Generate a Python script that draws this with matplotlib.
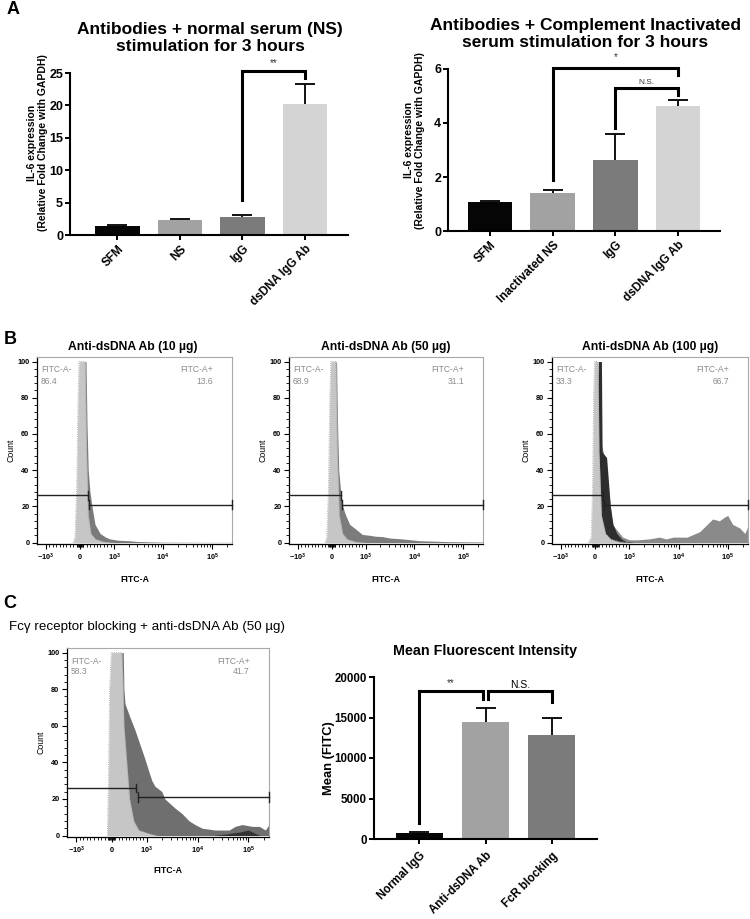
"""Recreate the IL-6 expression / anti-dsDNA binding figure (panels A-C)."""

import numpy
from matplotlib import pyplot
from matplotlib import ticker

pyplot.rcParams["font.family"] = ["Liberation Sans", "DejaVu Sans"]
pyplot.rcParams["mathtext.fontset"] = "custom"
pyplot.rcParams["mathtext.rm"] = "Liberation Sans"
pyplot.rcParams["mathtext.bf"] = "Liberation Sans:bold"

# ---- panel A, left: antibodies + normal serum
ns_groups = ["SFM", "NS", "IgG", "dsDNA IgG Ab"]
ns_mean = [1.35, 2.3, 2.72, 20.25]
ns_upper = [1.55, 2.45, 3.15, 23.3]
ns_colors = ["#050505", "#a2a2a2", "#7b7b7b", "#d4d4d4"]

# ---- panel A, right: antibodies + complement inactivated serum
ci_groups = ["SFM", "Inactivated NS", "IgG", "dsDNA IgG Ab"]
ci_mean = [1.06, 1.39, 2.63, 4.63]
ci_upper = [1.12, 1.53, 3.58, 4.87]
ci_colors = ["#050505", "#a2a2a2", "#7b7b7b", "#d4d4d4"]

# ---- panel C, right: mean fluorescent intensity
mfi_groups = ["Normal IgG", "Anti-dsDNA Ab", "FcR blocking"]
mfi_mean = [790, 14480, 12840]
mfi_upper = [910, 16130, 14900]
mfi_colors = ["#050505", "#a2a2a2", "#7b7b7b"]

# ---- flow histograms: FITC-A value vs count
b10_ctrl_x = [-200, -150, -100, -60, -30, 150, 190, 240, 320, 450, 700, 1000]
b10_ctrl_y = [0, 3, 30, 80, 100, 100, 50, 15, 5, 2, 0.5, 0]
b10_samp_x = [-150, -50, 60, 90, 175, 205, 240, 290, 350, 440, 590, 750, 880,
              1200, 2000, 3000, 5000, 10000, 30000, 100000, 256000]
b10_samp_y = [0, 15, 90, 100, 100, 65, 40, 28, 20, 10, 5, 3, 2,
              1.3, 1, 0.6, 0.4, 0.2, 0.15, 0.1, 0.1]
b10_pct = ("86.4", "13.6")
b10_gate = 235

b50_ctrl_x = [-200, -150, -100, -60, -30, 120, 160, 220, 320, 450, 700, 1000]
b50_ctrl_y = [0, 3, 30, 80, 100, 100, 50, 15, 5, 2, 0.5, 0]
b50_samp_x = [-150, -50, 60, 120, 140, 155, 175, 205, 260, 320, 410, 530, 735,
              900, 1200, 1600, 2200, 3100, 5700, 13000, 52000, 256000]
b50_samp_y = [0, 15, 90, 100, 100, 80, 60, 40, 28, 20, 15, 10, 7,
              4.5, 4, 3.5, 3.3, 2.5, 2, 1, 0.5, 0.3]
b50_pct = ("68.9", "31.1")
b50_gate = 265

b100_ctrl_x = [-200, -120, -80, -50, -20, 80, 110, 180, 300, 450, 700, 1000]
b100_ctrl_y = [0, 3, 30, 80, 100, 100, 50, 15, 5, 2, 0.5, 0]
b100_dark_x = [-100, 0, 60, 90, 180, 200, 330, 360, 440, 520, 630, 765, 910, 1200]
b100_dark_y = [0, 30, 80, 100, 100, 50, 47, 40, 20, 10, 5, 2, 0.5, 0]
b100_samp_x = [-50, 100, 300, 500, 800, 1000, 1500, 2500, 4100, 5500, 7800, 14800,
               26700, 49000, 67000, 85000, 99000, 125000, 175000, 220000, 256000]
b100_samp_y = [0, 60, 45, 10, 3, 1.5, 1.5, 2, 3, 2, 3, 3,
               6, 13, 12, 14, 15, 10, 8, 5, 9]
b100_pct = ("33.3", "66.7")
b100_gate = 235

c_ctrl_x = [-120, -90, -57, -10, 290, 320, 350, 430, 510, 630, 770, 1150, 1600]
c_ctrl_y = [0, 30, 80, 100, 100, 85, 60, 40, 20, 8, 3, 1, 0]
c_samp_x = [-60, 100, 250, 330, 350, 380, 514, 657, 800, 943, 1095, 1256, 1440, 1980,
            2270, 3590, 4940, 6800, 8900, 12300, 22200, 42000, 55000, 76000, 120000,
            165000, 217000, 256000]
c_samp_y = [0, 60, 100, 100, 80, 72, 65, 58, 50, 42, 35, 30, 27, 24,
            20, 15, 12, 8, 6, 4, 3, 3, 5, 6, 5, 5, 3, 6]
c_dark_x = [20000, 40000, 70000, 100000, 130000, 170000]
c_dark_y = [0, 1, 2, 3, 1.5, 0]
c_pct = ("58.3", "41.7")
c_gate = 690

FLOW_TICKS = [-1000, 0, 1000, 10000, 100000]
FLOW_TICK_LABELS = [r"$\mathbf{-10^{3}}$", r"$\mathbf{0}$", r"$\mathbf{10^{3}}$",
                    r"$\mathbf{10^{4}}$", r"$\mathbf{10^{5}}$"]
FLOW_MINOR = ([-s * 100 for s in range(1, 10)] + [s * 20 for s in (-4, -3, -2, -1, 1, 2, 3, 4)]
              + [s * 100 for s in range(1, 10)] + [s * 1000 for s in range(2, 10)]
              + [s * 10000 for s in range(2, 10)] + [200000])

FIG_W, FIG_H = 750, 919


def px_axes(fig, left, top, right, bottom):
    """Add axes from pixel edges measured from the top-left corner."""
    return fig.add_axes([left / FIG_W, 1 - bottom / FIG_H,
                         (right - left) / FIG_W, (bottom - top) / FIG_H])


def fig_text(fig, x, y, s, **kwargs):
    kwargs.setdefault("ha", "center")
    kwargs.setdefault("va", "center")
    fig.text(x / FIG_W, 1 - y / FIG_H, s, **kwargs)


def draw_bars(ax, groups, means, uppers, colors, top, step, xlim, tick_fs, label_fs, pad):
    x = numpy.arange(len(groups))
    ax.bar(x, means, width=0.71, color=colors, zorder=2)
    errs = numpy.subtract(uppers, means)
    _, caps, _ = ax.errorbar(x, means, yerr=[numpy.zeros(len(x)), errs], fmt="none",
                             ecolor="#111111", elinewidth=1.4, capsize=7.5,
                             capthick=1.4, zorder=3)
    caps[0].set_visible(False)
    ax.set_xlim(*xlim)
    ax.set_ylim(0, top)
    ax.set_yticks(numpy.arange(0, top + step / 2, step))
    for side in ("top", "right"):
        ax.spines[side].set_visible(False)
    for side in ("left", "bottom"):
        ax.spines[side].set_linewidth(1.5)
    ax.tick_params(width=1.4, length=3.8)
    ax.tick_params(axis="y", labelsize=tick_fs, pad=1.2)
    for lab in ax.get_yticklabels():
        lab.set_fontweight("bold")
    ax.set_xticks(x)
    ax.set_xticklabels(groups, rotation=45, ha="right", rotation_mode="anchor",
                       fontsize=label_fs, fontweight="bold")
    ax.tick_params(axis="x", pad=pad)


def bracket(ax, x0, y0, x1, y1, top, label, label_y, fs, color="#333333"):
    ax.plot([x0, x0, x1, x1], [y0, top, top, y1], color="black", lw=2.2,
            clip_on=False, solid_joinstyle="miter", zorder=4)
    ax.text((x0 + x1) / 2, label_y, label, ha="center", va="center",
            fontsize=fs, color=color, clip_on=False)


def flow_panel(fig, box, curves, pct, gate, xlabel_gap):
    left, top, right, bottom = box
    ax = px_axes(fig, left, top, right, bottom)
    for xs, ys, color, z in curves:
        ax.fill_between(xs, ys, color=color, lw=0, zorder=z)
        if color == "#c6c6c6":
            ax.plot(xs, ys, color="#9a9a9a", lw=0.6, ls=":", zorder=z)
    ax.set_xscale("symlog", linthresh=1000, linscale=0.625)
    ax.set_xlim(-1530, 256000)
    ax.set_ylim(-0.8, 102.5)

    # gates
    g_kw = dict(color="#222222", lw=1.0, zorder=6, clip_on=False)
    ax.plot([-1530, gate], [26, 26], **g_kw)
    ax.plot([gate, gate], [23.7, 28.3], **g_kw)
    ax.plot([gate * 1.08, 256000], [21, 21], **g_kw)
    ax.plot([gate * 1.08, gate * 1.08], [18.3, 23.7], **g_kw)
    ax.plot([256000, 256000], [18.3, 23.7], **g_kw)

    ax.set_xticks(FLOW_TICKS)
    ax.set_xticklabels(FLOW_TICK_LABELS)
    ax.xaxis.set_minor_locator(ticker.FixedLocator(FLOW_MINOR))
    ax.set_yticks(range(0, 101, 20))
    ax.yaxis.set_minor_locator(ticker.MultipleLocator(4))
    ax.tick_params(which="major", length=3.5, width=0.8, labelsize=5.3, pad=2)
    ax.tick_params(which="minor", length=2, width=0.6)
    for lab in ax.get_yticklabels():
        lab.set_fontweight("bold")
    for side in ("left", "bottom"):
        ax.spines[side].set_linewidth(0.9)
    for side in ("top", "right"):
        ax.spines[side].set_color("#a8a8a8")
        ax.spines[side].set_linewidth(0.8)
    ax.set_ylabel("Count", fontsize=6.3, labelpad=1)
    ax.set_xlabel("FITC-A", fontsize=6.3, fontweight="bold", labelpad=xlabel_gap)

    gray = "#8c8c8c"
    fig_text(fig, left + 4, top + 13, "FITC-A-", ha="left", fontsize=6.2, color=gray)
    fig_text(fig, left + 4, top + 24, pct[0], ha="left", fontsize=6.2, color=gray)
    fig_text(fig, right - 19, top + 13, "FITC-A+", ha="right", fontsize=6.2, color=gray)
    fig_text(fig, right - 19, top + 24, pct[1], ha="right", fontsize=6.2, color=gray)
    return ax


def il6_label(ax, x, y):
    ax.set_ylabel("IL-6 expression\n(Relative Fold Change with GAPDH)", fontsize=7.5,
                  fontweight="bold", linespacing=1.05)
    ax.yaxis.set_label_coords(x, y)


def main():
    fig = pyplot.figure(figsize=(7.5, 9.19), dpi=100)

    # ---------------- panel A
    fig_text(fig, 13, 10, "A", fontsize=13, fontweight="bold")
    ax = px_axes(fig, 70, 73, 348, 235)
    draw_bars(ax, ns_groups, ns_mean, ns_upper, ns_colors, 25, 5, (-0.76, 3.69), 9, 8.5, 2)
    il6_label(ax, -0.08, 0.57)
    bracket(ax, 2, 5.4, 3, 24.2, 25.3, "**", 26.6, 7)
    fig_text(fig, 210, 38, "Antibodies + normal serum (NS)\nstimulation for 3 hours",
             fontsize=12.5, fontweight="bold", linespacing=1.2)

    ax = px_axes(fig, 448, 69, 720, 231)
    draw_bars(ax, ci_groups, ci_mean, ci_upper, ci_colors, 6, 2, (-0.67, 3.67), 9, 8.5, 2)
    il6_label(ax, -0.085, 0.56)
    bracket(ax, 1, 1.89, 3, 5.78, 6.02, "*", 6.45, 7)
    bracket(ax, 2, 3.81, 3, 5.04, 5.31, "N.S.", 5.5, 6)
    fig_text(fig, 585, 34, "Antibodies + Complement Inactivated\nserum stimulation for 3 hours",
             fontsize=12.5, fontweight="bold", linespacing=1.15)

    # ---------------- panel B
    fig_text(fig, 10, 340, "B", fontsize=13, fontweight="bold")
    flow_panel(fig, (37, 357, 232, 544),
               [(b10_samp_x, b10_samp_y, "#7a7a7a", 1),
                (b10_ctrl_x, b10_ctrl_y, "#c6c6c6", 3)],
               b10_pct, b10_gate, 9)
    fig_text(fig, 133, 347, "Anti-dsDNA Ab (10 µg)", fontsize=8.7, fontweight="bold")
    flow_panel(fig, (289, 357, 483, 544),
               [(b50_samp_x, b50_samp_y, "#7c7c7c", 1),
                (b50_ctrl_x, b50_ctrl_y, "#c6c6c6", 3)],
               b50_pct, b50_gate, 9)
    fig_text(fig, 386, 347, "Anti-dsDNA Ab (50 µg)", fontsize=8.7, fontweight="bold")
    flow_panel(fig, (552, 357, 748, 544),
               [(b100_samp_x, b100_samp_y, "#8a8a8a", 1),
                (b100_dark_x, b100_dark_y, "#2e2e2e", 2),
                (b100_ctrl_x, b100_ctrl_y, "#c6c6c6", 3)],
               b100_pct, b100_gate, 9)
    fig_text(fig, 650, 347, "Anti-dsDNA Ab (100 µg)", fontsize=8.7, fontweight="bold")

    # ---------------- panel C
    fig_text(fig, 10, 603, "C", fontsize=13, fontweight="bold")
    fig_text(fig, 147, 627, "Fc\u03b3 receptor blocking + anti-dsDNA Ab (50 µg)",
             fontsize=9.6)
    flow_panel(fig, (67, 648, 269, 837),
               [(c_samp_x, c_samp_y, "#6f6f6f", 1),
                (c_dark_x, c_dark_y, "#333333", 2),
                (c_ctrl_x, c_ctrl_y, "#c6c6c6", 3)],
               c_pct, c_gate, 7)

    ax = px_axes(fig, 374, 677, 597, 839)
    draw_bars(ax, mfi_groups, mfi_mean, mfi_upper, mfi_colors, 20000, 5000,
              (-0.68, 2.68), 8.3, 8.3, 4)
    ax.set_ylabel("Mean (FITC)", fontsize=9.3, fontweight="bold")
    ax.yaxis.set_label_coords(-0.175, 0.5)
    bracket(ax, 0, 1940, 0.965, 17250, 18300, "**", 19300, 7)
    bracket(ax, 1.04, 17250, 2, 16880, 18300, "N.S.", 19000, 7.5, color="black")
    fig_text(fig, 485, 651, "Mean Fluorescent Intensity", fontsize=10.3, fontweight="bold")

    fig.savefig("out.png", dpi=100)


if __name__ == "__main__":
    main()
